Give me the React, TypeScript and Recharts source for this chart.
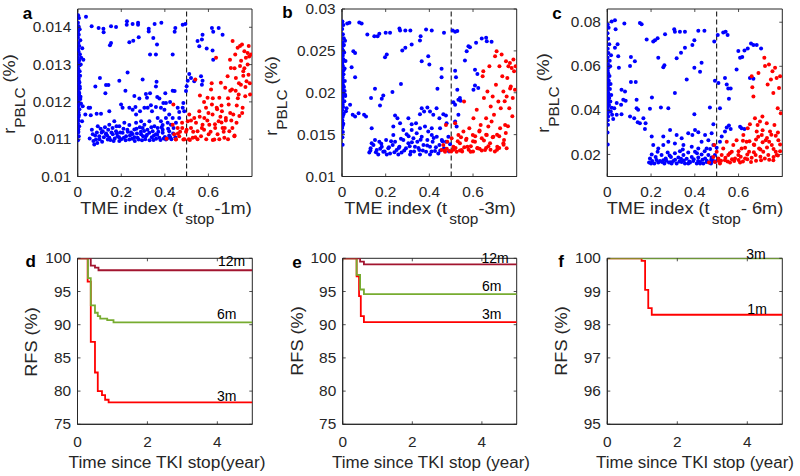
import React from 'react';
import {
  ScatterChart, Scatter, LineChart, Line, XAxis, YAxis,
  ReferenceLine, ReferenceArea, ReferenceDot,
} from 'recharts';

const FONT = '"Liberation Sans", Arial, Helvetica, sans-serif';
const AXIS = '#262626';
const BLUE = '#0000ff';
const RED = '#ff0000';
const GREEN = '#77ac30';
const DARKRED = '#a2142f';

type P = [number, number];

// ---------- tick values ----------
const scatterXTicks = [0, 0.2, 0.4, 0.6];
const aYTicks = [0.01, 0.011, 0.012, 0.013, 0.014];
const bYTicks = [0.01, 0.015, 0.02, 0.025, 0.03];
const cYTicks = [0.02, 0.04, 0.06, 0.08];
const kmXTicks = [0, 2, 4];
const deYTicks = [75, 80, 85, 90, 95, 100];
const fYTicks = [95, 96, 97, 98, 99, 100];

// ---------- panel a ----------
const aBlue: P[] = [
  [0.002,0.01432],[0.006,0.01425],[0.001,0.01412],[0.004,0.01403],[0.009,0.01395],[0.002,0.01388],[0.005,0.0138],[0.001,0.01372],
  [0.012,0.01365],[0.003,0.01358],[0.007,0.0135],[0.002,0.01342],[0.004,0.01335],[0.01,0.01328],[0.001,0.0132],[0.006,0.01312],
  [0.003,0.01305],[0.008,0.01298],[0.002,0.0129],[0.005,0.01283],[0.001,0.01276],[0.011,0.0127],[0.003,0.01262],[0.006,0.01255],
  [0.002,0.01248],[0.009,0.01242],[0.004,0.01235],[0.001,0.01228],[0.007,0.01222],[0.003,0.01215],[0.012,0.01208],[0.002,0.012],
  [0.005,0.01193],[0.001,0.01186],[0.008,0.0118],[0.003,0.01172],[0.006,0.01165],[0.002,0.01158],[0.004,0.0115],[0.001,0.01142],
  [0.007,0.01135],[0.003,0.01126],[0.002,0.01118],[0.005,0.01108],[0.001,0.01097],[0.004,0.01262],[0.008,0.01252],[0.01,0.01236],
  [0.006,0.01226],[0.013,0.01214],[0.002,0.01206],[0.015,0.01196],[0.009,0.01282],[0.014,0.013],[0.016,0.01318],[0.021,0.01344],[0.026,0.01313],
  [0.003,0.0128],[0.001,0.0125],[0.005,0.0122],[0.002,0.0119],[0.004,0.0116],[0.006,0.0131],[0.001,0.0134],[0.003,0.0112],[0.007,0.0124],[0.002,0.0127],
  [0.038,0.01428],[0.064,0.01403],[0.096,0.01398],[0.118,0.01396],[0.119,0.01387],[0.153,0.01403],[0.176,0.01401],[0.226,0.01416],
  [0.225,0.01407],[0.252,0.01409],[0.277,0.01412],[0.277,0.01407],[0.326,0.01396],[0.326,0.01389],[0.353,0.01409],[0.384,0.01412],
  [0.448,0.01398],[0.445,0.01388],[0.482,0.01407],[0.494,0.01409],
  [0.255,0.01364],[0.237,0.0136],[0.28,0.01373],[0.347,0.01371],[0.364,0.01354],[0.153,0.01358],[0.148,0.01352],[0.332,0.01327],
  [0.359,0.01327],[0.436,0.01327],[0.573,0.0138],[0.57,0.01367],[0.616,0.01398],[0.622,0.01388],[0.647,0.01398],[0.665,0.0138],
  [0.558,0.01349],[0.592,0.01343],[0.619,0.01338],[0.622,0.01313],[0.55,0.01363],
  [0.229,0.01279],[0.298,0.0126],[0.191,0.01257],[0.102,0.01264],[0.081,0.01241],[0.13,0.01245],[0.141,0.01245],[0.362,0.01254],
  [0.359,0.01241],[0.512,0.01275],[0.52,0.01264],[0.505,0.01257],[0.5,0.01242],[0.566,0.01269],[0.573,0.01257],[0.57,0.01246],
  [0.535,0.01255],[0.127,0.01223],[0.219,0.0123],[0.26,0.01216],[0.283,0.01209],[0.313,0.01221],[0.332,0.01223],[0.318,0.01211],
  [0.365,0.01213],[0.402,0.01223],[0.436,0.0123],[0.445,0.01229],[0.424,0.012],[0.405,0.01197],[0.375,0.01209],[0.485,0.01197],[0.497,0.01229],
  [0.023,0.01188],[0.05,0.01184],[0.057,0.01184],[0.035,0.01166],[0.06,0.01164],[0.087,0.01168],[0.107,0.01168],[0.02,0.01148],
  [0.145,0.01175],[0.199,0.01193],[0.206,0.01184],[0.237,0.01184],[0.252,0.01179],[0.265,0.01186],[0.268,0.01166],[0.286,0.01175],
  [0.306,0.01184],[0.321,0.01184],[0.336,0.01191],[0.341,0.01175],[0.359,0.01186],[0.382,0.01184],[0.393,0.01197],[0.398,0.01179],
  [0.459,0.01184],[0.466,0.01173],[0.482,0.01184],[0.489,0.01175],[0.367,0.01157],[0.382,0.01148],[0.405,0.01157],[0.42,0.01166],
  [0.436,0.01157],[0.466,0.01157],[0.451,0.01144],
  [0.069,0.01113],[0.076,0.01086],[0.084,0.01099],[0.099,0.01108],[0.115,0.01121],[0.13,0.01113],[0.138,0.01099],[0.145,0.01104],
  [0.161,0.01113],[0.176,0.01121],[0.183,0.01108],[0.191,0.01095],[0.206,0.01117],[0.222,0.01108],[0.237,0.01099],[0.252,0.01114],
  [0.26,0.01126],[0.275,0.01104],[0.291,0.01113],[0.298,0.0113],[0.313,0.01108],[0.329,0.01117],[0.344,0.01121],[0.359,0.01113],
  [0.375,0.01104],[0.39,0.01117],[0.405,0.01099],[0.42,0.01121],[0.092,0.01135],[0.145,0.01139],[0.168,0.01148],[0.191,0.01135],
  [0.214,0.01144],[0.237,0.01138],[0.268,0.01144],[0.291,0.01148],[0.306,0.01139],[0.329,0.01148],[0.352,0.01135],[0.367,0.0113],
  [0.39,0.01138],[0.413,0.01144],[0.428,0.01139],
  [0.1,0.011],[0.12,0.01105],[0.15,0.01098],[0.17,0.01102],[0.2,0.011],[0.22,0.01097],[0.25,0.01101],[0.28,0.01099],[0.31,0.011],
  [0.33,0.01097],[0.36,0.01101],[0.38,0.01098],[0.41,0.01102],[0.43,0.011],[0.08,0.0111],[0.11,0.01118],[0.14,0.01125],[0.18,0.01115],
  [0.23,0.0112],[0.27,0.01128],[0.32,0.01125],[0.35,0.0111],[0.39,0.01125],[0.42,0.0111],[0.44,0.0113],[0.09,0.0109],[0.13,0.01115],
  [0.16,0.0113],[0.19,0.01105],[0.21,0.01128],[0.24,0.0111],[0.26,0.01105],[0.29,0.0112],[0.3,0.01108],[0.34,0.01105],[0.37,0.0112],[0.4,0.01106],
  [0.055,0.01102],[0.065,0.01125],[0.072,0.01095],[0.088,0.01118],[0.105,0.01128],[0.112,0.01093],[0.125,0.01132],[0.135,0.0111],
  [0.155,0.01118],[0.165,0.01095],[0.178,0.01135],[0.195,0.01118],[0.212,0.01104],[0.228,0.01125],[0.245,0.01118],[0.262,0.01095],
  [0.272,0.01115],[0.285,0.01132],[0.295,0.01097],[0.305,0.01122],[0.318,0.01112],[0.338,0.01132],[0.348,0.01098],[0.365,0.01112],
  [0.385,0.01132],[0.395,0.01102],[0.415,0.01128],[0.425,0.01105],[0.438,0.01115],[0.448,0.01105],
];

const aRed: P[] = [
  [0.408,0.01101],[0.436,0.01139],[0.439,0.01193],[0.443,0.01113],[0.451,0.01099],[0.459,0.0113],[0.466,0.01108],[0.479,0.01144],
  [0.485,0.01099],[0.497,0.0112],[0.505,0.01148],[0.512,0.01166],[0.52,0.0113],[0.528,0.01104],[0.535,0.01157],[0.54,0.0126],
  [0.543,0.01144],[0.55,0.01121],[0.558,0.01175],[0.561,0.01217],[0.566,0.01108],[0.573,0.01139],[0.581,0.01157],[0.589,0.01184],
  [0.596,0.01211],[0.601,0.01113],[0.604,0.01139],[0.612,0.01233],[0.616,0.01193],[0.619,0.01166],[0.627,0.01099],[0.631,0.0113],
  [0.635,0.01318],[0.638,0.01184],[0.642,0.01113],[0.647,0.01148],[0.65,0.01211],[0.657,0.01251],[0.662,0.01175],[0.665,0.0113],
  [0.673,0.01104],[0.677,0.01238],[0.68,0.01157],[0.688,0.01269],[0.693,0.01193],[0.696,0.01121],[0.699,0.01313],[0.703,0.01291],
  [0.708,0.01233],[0.711,0.01363],[0.714,0.01166],[0.719,0.01108],[0.723,0.01327],[0.726,0.01264],[0.729,0.01144],[0.734,0.01345],
  [0.739,0.0122],[0.742,0.01162],[0.745,0.01296],[0.749,0.01246],[0.754,0.01354],[0.757,0.01184],[0.76,0.01282],[0.765,0.01336],
  [0.769,0.01215],[0.772,0.01318],[0.775,0.01255],[0.78,0.01331],[0.784,0.01273],[0.787,0.01322],[0.791,0.0122],[0.795,0.01327],
  [0.45,0.011],[0.47,0.0112],[0.49,0.011],[0.51,0.011],[0.53,0.0112],[0.55,0.011],[0.57,0.0113],[0.59,0.011],[0.61,0.0112],
  [0.63,0.0114],[0.65,0.011],[0.67,0.0112],[0.69,0.011],[0.71,0.0113],[0.48,0.0113],[0.52,0.0115],[0.56,0.0116],[0.6,0.0117],
  [0.64,0.0118],[0.68,0.0115],[0.7,0.0117],[0.73,0.0119],[0.58,0.012],[0.62,0.0121],[0.66,0.0119],[0.7,0.0123],[0.74,0.0125],
  [0.76,0.0127],[0.72,0.0129],[0.75,0.0131],[0.78,0.013],[0.77,0.0124],[0.79,0.0125],
  [0.46,0.01115],[0.5,0.01125],[0.54,0.01105],[0.58,0.01125],[0.62,0.01098],[0.66,0.01145],[0.72,0.0111],[0.515,0.01098],
  [0.595,0.0115],[0.675,0.0113],[0.705,0.0115],[0.735,0.0121],[0.755,0.0117],[0.765,0.0129],[0.785,0.0135],[0.745,0.0135],
  [0.725,0.0123],[0.69,0.0121],[0.655,0.0116],[0.615,0.0125],
];

// ---------- panel b ----------
const bBlue: P[] = [
  [0.002,0.0285],[0.006,0.0281],[0.001,0.0276],[0.004,0.027],[0.008,0.0265],[0.002,0.026],[0.005,0.0256],[0.001,0.0252],[0.01,0.0248],
  [0.003,0.0244],[0.006,0.024],[0.002,0.0236],[0.004,0.0232],[0.012,0.0229],[0.001,0.0225],[0.007,0.0222],[0.003,0.0218],[0.005,0.0214],
  [0.002,0.0211],[0.009,0.0207],[0.001,0.0204],[0.004,0.02],[0.006,0.0197],[0.002,0.0193],[0.011,0.019],[0.003,0.0186],[0.005,0.0183],
  [0.001,0.0179],[0.008,0.0175],[0.003,0.0171],[0.002,0.0167],[0.006,0.0163],[0.001,0.0158],[0.004,0.0153],[0.002,0.0147],[0.003,0.0138],
  [0.014,0.0262],[0.016,0.0238],[0.013,0.0214],[0.015,0.0196],[0.018,0.0178],[0.012,0.0202],[0.009,0.0257],[0.007,0.0227],
  [0.003,0.0245],[0.001,0.0219],[0.005,0.0209],[0.002,0.0188],[0.004,0.0173],[0.006,0.025],[0.001,0.0233],[0.003,0.0161],
  [0.024,0.02828],[0.034,0.02836],[0.079,0.0284],[0.09,0.02828],[0.116,0.02696],[0.148,0.02676],[0.163,0.02676],[0.171,0.02704],
  [0.2,0.02716],[0.22,0.02716],[0.263,0.02768],[0.266,0.02744],[0.29,0.02744],[0.313,0.02744],[0.36,0.02676],[0.357,0.02624],
  [0.385,0.02756],[0.411,0.02744],[0.467,0.02716],[0.507,0.02744],[0.518,0.02728],[0.528,0.02736],
  [0.319,0.02576],[0.29,0.02536],[0.276,0.02504],[0.205,0.02456],[0.197,0.02424],[0.365,0.02376],[0.395,0.02436],[0.4,0.02336],
  [0.052,0.02496],[0.06,0.02476],[0.044,0.02304],[0.06,0.02184],[0.456,0.02288],[0.456,0.02184],[0.518,0.02264],[0.522,0.02184],
  [0.27,0.02104],[0.231,0.02008],[0.151,0.02048],[0.133,0.01936],[0.189,0.01968],[0.182,0.01928],[0.174,0.01848],[0.437,0.02048],
  [0.571,0.02496],[0.579,0.02556],[0.586,0.02544],[0.614,0.02596],[0.64,0.02648],[0.66,0.02656],[0.663,0.02616],[0.685,0.02608],
  [0.563,0.02384],[0.609,0.02276],[0.62,0.02224],[0.602,0.02036],[0.609,0.02088],[0.624,0.02056],[0.528,0.02036],[0.533,0.01916],
  [0.54,0.01936],[0.518,0.01856],[0.51,0.01888],[0.543,0.01904],[0.533,0.01736],[0.518,0.01656],[0.525,0.01596],
  [0.021,0.01816],[0.049,0.01736],[0.06,0.01716],[0.076,0.01756],[0.101,0.01736],[0.11,0.01716],[0.037,0.01856],[0.014,0.01976],
  [0.243,0.01728],[0.254,0.01696],[0.266,0.01636],[0.304,0.01696],[0.319,0.01624],[0.339,0.01636],[0.357,0.01744],[0.365,0.01816],
  [0.376,0.01776],[0.391,0.01824],[0.403,0.01776],[0.418,0.01736],[0.433,0.01816],[0.446,0.01696],[0.464,0.01744],[0.476,0.01728],
  [0.479,0.01636],[0.357,0.01576],[0.38,0.01596],[0.411,0.01576],[0.449,0.01576],[0.281,0.01556],[0.235,0.01596],[0.342,0.01516],
  [0.395,0.01536],[0.136,0.01576],
  [0.125,0.01288],[0.131,0.01336],[0.144,0.01376],[0.159,0.01316],[0.171,0.01416],[0.182,0.01356],[0.189,0.01296],[0.202,0.01436],
  [0.212,0.01336],[0.22,0.01276],[0.232,0.01376],[0.243,0.01416],[0.25,0.01316],[0.263,0.01356],[0.273,0.01288],[0.281,0.01436],
  [0.293,0.01336],[0.304,0.01396],[0.315,0.01296],[0.327,0.01456],[0.334,0.01356],[0.345,0.01416],[0.354,0.01316],[0.365,0.01476],
  [0.373,0.01376],[0.385,0.01296],[0.391,0.01436],[0.403,0.01356],[0.415,0.01416],[0.426,0.01304],[0.434,0.01476],[0.446,0.01376],
  [0.457,0.01436],[0.467,0.01336],[0.476,0.01416],[0.487,0.01476],[0.495,0.01384],[0.136,0.01396],[0.151,0.01436],[0.166,0.01264],
  [0.205,0.01264],[0.258,0.01264],[0.312,0.01264],[0.357,0.01264],[0.403,0.01264],[0.441,0.01276],[0.235,0.01496],[0.296,0.01504],
  [0.411,0.01496],[0.319,0.01556],
  [0.13,0.0131],[0.155,0.0129],[0.175,0.0133],[0.195,0.013],[0.215,0.0135],[0.24,0.0129],[0.26,0.0134],[0.285,0.0131],[0.31,0.0136],
  [0.33,0.013],[0.35,0.0134],[0.37,0.0131],[0.39,0.0137],[0.41,0.013],[0.43,0.0135],[0.45,0.0131],[0.47,0.0133],[0.49,0.013],
  [0.225,0.0142],[0.27,0.0145],[0.32,0.0141],[0.36,0.0144],[0.42,0.0146],[0.46,0.0142],[0.18,0.0139],[0.305,0.0148],
];

const bRed: P[] = [
  [0.456,0.01316],[0.464,0.01376],[0.472,0.01296],[0.476,0.01616],[0.482,0.01416],[0.492,0.01304],[0.502,0.01456],[0.51,0.01356],
  [0.518,0.01636],[0.525,0.01296],[0.533,0.01496],[0.54,0.01396],[0.548,0.01316],[0.556,0.01536],[0.559,0.01896],[0.568,0.01436],
  [0.574,0.01356],[0.583,0.01576],[0.589,0.01296],[0.599,0.01496],[0.602,0.01696],[0.609,0.01416],[0.617,0.01796],[0.62,0.01336],
  [0.629,0.01536],[0.635,0.01616],[0.64,0.01456],[0.644,0.02196],[0.647,0.02256],[0.65,0.01936],[0.655,0.01316],[0.66,0.01696],
  [0.663,0.01496],[0.666,0.02016],[0.67,0.01596],[0.675,0.02316],[0.678,0.01396],[0.681,0.01836],[0.685,0.01656],[0.69,0.01956],
  [0.693,0.01476],[0.696,0.01736],[0.701,0.02436],[0.705,0.02096],[0.708,0.02496],[0.711,0.01356],[0.716,0.01896],[0.721,0.02316],
  [0.724,0.01576],[0.727,0.01816],[0.731,0.02456],[0.734,0.02196],[0.739,0.02016],[0.742,0.01436],[0.747,0.01616],[0.751,0.02376],
  [0.754,0.01956],[0.757,0.02176],[0.762,0.02316],[0.766,0.01816],[0.769,0.02356],[0.773,0.02076],[0.777,0.02296],[0.782,0.01936],
  [0.785,0.02396],[0.788,0.02256],[0.792,0.02036],[0.795,0.02316],[0.754,0.01336],[0.739,0.01396],
  [0.48,0.0133],[0.5,0.013],[0.52,0.0134],[0.54,0.0131],[0.56,0.0135],[0.58,0.0132],[0.6,0.013],[0.62,0.0134],[0.64,0.0131],
  [0.66,0.0134],[0.68,0.0132],[0.7,0.013],[0.72,0.0134],[0.74,0.0138],[0.53,0.0142],[0.57,0.0145],[0.61,0.0148],[0.65,0.0143],
  [0.69,0.0147],[0.71,0.015],[0.75,0.0152],[0.63,0.0155],
  [0.47,0.0131],[0.51,0.0132],[0.55,0.013],[0.59,0.0136],[0.63,0.0133],[0.67,0.0136],[0.71,0.0132],[0.545,0.0147],[0.6,0.0142],
  [0.66,0.015],[0.72,0.0148],[0.76,0.016],[0.78,0.0172],[0.745,0.019],[0.77,0.0205],
];

// ---------- panel c ----------
const cBlue: P[] = [
  [0.002,0.079],[0.006,0.0775],[0.001,0.075],[0.004,0.0725],[0.009,0.07],[0.002,0.068],[0.005,0.066],[0.001,0.064],[0.011,0.0625],
  [0.003,0.061],[0.006,0.0595],[0.002,0.058],[0.004,0.0568],[0.01,0.0556],[0.001,0.0545],[0.007,0.0535],[0.003,0.0525],[0.005,0.0515],
  [0.002,0.0505],[0.012,0.0497],[0.001,0.0488],[0.004,0.048],[0.006,0.0472],[0.002,0.0464],[0.009,0.0456],[0.003,0.0448],[0.005,0.044],
  [0.001,0.0432],[0.008,0.0424],[0.003,0.0416],[0.002,0.0405],[0.006,0.0395],[0.001,0.0385],[0.004,0.0372],[0.002,0.0355],[0.003,0.0335],
  [0.001,0.03],[0.002,0.0245],[0.015,0.052],[0.018,0.047],[0.014,0.044],[0.02,0.0412],[0.016,0.0395],[0.022,0.038],[0.013,0.06],[0.017,0.065],
  [0.02,0.0803],[0.035,0.0809],[0.038,0.0768],[0.078,0.0794],[0.149,0.0797],[0.157,0.0791],[0.18,0.0722],[0.21,0.0712],[0.218,0.0718],
  [0.23,0.0727],[0.264,0.0745],[0.306,0.0768],[0.309,0.0757],[0.332,0.0757],[0.355,0.0757],[0.416,0.0761],[0.444,0.0761],[0.489,0.0712],
  [0.505,0.0742],[0.53,0.0753],[0.541,0.0757],[0.55,0.0742],[0.398,0.0718],[0.389,0.0697],[0.355,0.0684],[0.337,0.0661],[0.317,0.0636],
  [0.233,0.0639],[0.261,0.0605],[0.256,0.0596],[0.398,0.0593],[0.431,0.0616],[0.424,0.0575],[0.363,0.054],[0.492,0.0535],[0.309,0.0479],
  [0.204,0.0459],[0.245,0.0413],[0.279,0.041],[0.398,0.0383],[0.469,0.0413],[0.485,0.0337],[0.195,0.0407],[0.108,0.0642],[0.126,0.0623],
  [0.104,0.0601],[0.05,0.0646],[0.053,0.0593],[0.035,0.0684],[0.047,0.07],[0.108,0.0529],[0.13,0.0529],[0.065,0.0494],[0.081,0.0486],
  [0.084,0.0444],[0.073,0.0448],[0.063,0.0425],[0.043,0.0433],[0.032,0.041],[0.043,0.038],[0.065,0.0383],[0.027,0.0361],[0.104,0.0372],
  [0.123,0.0364],[0.134,0.041],[0.141,0.0403],[0.139,0.0346],[0.149,0.0342],[0.165,0.0364],[0.175,0.0342],[0.172,0.0316],[0.134,0.0448],
  [0.599,0.0669],[0.607,0.0639],[0.627,0.0672],[0.642,0.0681],[0.657,0.0703],[0.668,0.0697],[0.683,0.0697],[0.703,0.0681],[0.591,0.0585],
  [0.617,0.0642],[0.538,0.0547],[0.546,0.0517],[0.553,0.0499],[0.564,0.0499],[0.556,0.0453],[0.652,0.0547],[0.668,0.0544],[0.508,0.0524],
  [0.515,0.041],[0.546,0.0322],[0.556,0.0331],[0.564,0.0316],[0.538,0.0304],[0.607,0.0326],[0.614,0.0319],[0.627,0.0316],[0.523,0.0281],
  [0.515,0.0258],
  [0.401,0.0311],[0.37,0.0296],[0.389,0.0288],[0.416,0.0301],[0.447,0.0288],[0.477,0.0296],[0.462,0.0265],[0.431,0.0258],[0.34,0.0273],
  [0.317,0.0288],[0.309,0.025],[0.279,0.0258],[0.256,0.0281],[0.256,0.0243],[0.203,0.0281],[0.21,0.0243],[0.233,0.0227],[0.348,0.0243],
  [0.386,0.0235],[0.416,0.0227],[0.454,0.0227],[0.485,0.0243],[0.287,0.0311],
  [0.191,0.0163],[0.195,0.0182],[0.203,0.02],[0.215,0.0159],[0.221,0.0189],[0.23,0.0212],[0.241,0.017],[0.248,0.0197],[0.261,0.0159],
  [0.267,0.0182],[0.276,0.0209],[0.282,0.0163],[0.291,0.0189],[0.302,0.017],[0.309,0.0205],[0.317,0.0159],[0.325,0.0186],[0.332,0.0215],
  [0.34,0.0166],[0.348,0.0197],[0.355,0.0159],[0.363,0.018],[0.37,0.0209],[0.378,0.0163],[0.386,0.0189],[0.393,0.017],[0.401,0.0212],
  [0.409,0.0159],[0.416,0.0186],[0.424,0.0166],[0.431,0.02],[0.439,0.0159],[0.447,0.0182],[0.454,0.0166],[0.462,0.0197],[0.469,0.0163],
  [0.477,0.0186],[0.485,0.017],[0.492,0.0197],[0.2,0.0159],[0.233,0.0163],[0.294,0.0159],[0.37,0.0159],[0.424,0.0159],[0.474,0.0159],
  [0.256,0.0174],[0.337,0.018],
  [0.205,0.017],[0.225,0.0175],[0.25,0.0166],[0.27,0.0172],[0.29,0.0165],[0.31,0.0176],[0.33,0.0168],[0.35,0.0173],[0.375,0.0168],
  [0.395,0.0178],[0.415,0.017],[0.435,0.0176],[0.455,0.0172],[0.475,0.0176],[0.495,0.0168],[0.285,0.0195],[0.345,0.0222],[0.41,0.0205],
  [0.445,0.0215],[0.47,0.0225],[0.5,0.023],
];

const cRed: P[] = [
  [0.465,0.0163],[0.485,0.0189],[0.489,0.0243],[0.492,0.0166],[0.5,0.0212],[0.508,0.0182],[0.515,0.0159],[0.523,0.0197],[0.53,0.0227],
  [0.538,0.0174],[0.546,0.0258],[0.553,0.0197],[0.561,0.0163],[0.569,0.0212],[0.576,0.0243],[0.584,0.0182],[0.591,0.0265],[0.599,0.0197],
  [0.607,0.0163],[0.614,0.0227],[0.622,0.0288],[0.63,0.0182],[0.637,0.0258],[0.642,0.0319],[0.648,0.0212],[0.652,0.0337],[0.657,0.0166],
  [0.66,0.0555],[0.663,0.0505],[0.668,0.0463],[0.672,0.0243],[0.675,0.0364],[0.678,0.0197],[0.683,0.0304],[0.687,0.0334],[0.691,0.057],
  [0.694,0.0227],[0.698,0.0349],[0.703,0.0174],[0.706,0.0288],[0.709,0.0372],[0.713,0.0212],[0.718,0.0639],[0.721,0.0601],[0.724,0.0265],
  [0.729,0.0342],[0.733,0.0517],[0.736,0.0197],[0.739,0.0608],[0.744,0.0304],[0.748,0.054],[0.752,0.0243],[0.755,0.0578],[0.759,0.0479],
  [0.764,0.0334],[0.767,0.0593],[0.77,0.0212],[0.774,0.0547],[0.779,0.041],[0.782,0.0265],[0.785,0.0502],[0.79,0.0555],[0.793,0.0387],
  [0.759,0.0174],[0.774,0.0197],
  [0.52,0.0172],[0.55,0.0168],[0.58,0.017],[0.6,0.0175],[0.62,0.0168],[0.64,0.0178],[0.66,0.0185],[0.68,0.0172],[0.7,0.019],
  [0.72,0.0182],[0.74,0.0176],[0.76,0.0188],[0.78,0.0195],[0.56,0.0205],[0.6,0.0215],[0.63,0.023],[0.67,0.0245],[0.71,0.0255],
  [0.73,0.0275],[0.77,0.0285],[0.79,0.0245],[0.65,0.026],[0.69,0.028],[0.75,0.029],
  [0.51,0.017],[0.54,0.0185],[0.57,0.0178],[0.61,0.019],[0.64,0.02],[0.67,0.021],[0.7,0.0222],[0.73,0.0232],[0.76,0.0225],
  [0.79,0.0215],[0.62,0.0262],[0.68,0.0268],[0.74,0.0258],[0.78,0.03],[0.71,0.031],
];

// ---------- RFS curves (time in years, RFS in %) ----------
const d3m: P[] = [[0,100],[0.29,96.5],[0.38,87.4],[0.5,82.8],[0.58,80.0],[0.7,79.4],[0.79,78.7],[0.89,78.3],[5,78.3]];
const d6m: P[] = [[0,100],[0.3,97.0],[0.38,92.9],[0.5,91.8],[0.58,91.3],[0.65,90.9],[0.85,90.7],[1.03,90.35],[5,90.35]];
const d12m: P[] = [[0,100],[0.38,98.9],[0.5,98.6],[0.6,98.2],[5,98.2]];
const e3m: P[] = [[0,100],[0.4,97.3],[0.47,94.3],[0.52,91.3],[0.61,90.4],[5,90.4]];
const e6m: P[] = [[0,100],[0.4,97.5],[0.5,95.3],[0.61,94.6],[5,94.6]];
const e12m: P[] = [[0,100],[0.5,99.5],[0.61,99.1],[5,99.1]];
const f1m: P[] = [[0,100],[0.98,99.92],[1.08,99.05],[1.17,98.5],[1.27,98.3],[5,98.3]];
const f3m: P[] = [[0,100],[5,100]];

const dLabels = [{ text: '12m', x: 4.41, y: 99.52 }, { text: '6m', x: 4.27, y: 91.6 }, { text: '3m', x: 4.27, y: 79.26 }];
const eLabels = [{ text: '12m', x: 4.38, y: 100.05 }, { text: '6m', x: 4.28, y: 95.83 }, { text: '3m', x: 4.28, y: 91.54 }];
const fLabels = [{ text: '3m', x: 4.25, y: 100.13 }, { text: '1m', x: 4.28, y: 98.46 }];

const toXY = (p: P) => ({ x: p[0], y: p[1] });

// ---------- tick renderers (inward ticks on all four sides, MATLAB-like) ----------
function XTick(props: any) {
  const { x, y, payload, h, off } = props;
  return (
    <g>
      <line x1={x} x2={x} y1={y} y2={y - 3} stroke={AXIS} strokeWidth={0.8} />
      <line x1={x} x2={x} y1={y - h} y2={y - h + 3} stroke={AXIS} strokeWidth={0.8} />
      <text transform={`translate(${x},${y + off}) scale(1.1,1)`} textAnchor="middle" dy="0.36em"
        fill={AXIS} fontSize={14} fontFamily={FONT}>{String(payload.value)}</text>
    </g>
  );
}

function YTick(props: any) {
  const { x, y, payload, w } = props;
  return (
    <g>
      <line x1={x} x2={x + 3} y1={y} y2={y} stroke={AXIS} strokeWidth={0.8} />
      <line x1={x + w} x2={x + w - 3} y1={y} y2={y} stroke={AXIS} strokeWidth={0.8} />
      <text transform={`translate(${x - 6.5},${y}) scale(1.1,1)`} textAnchor="end" dy="0.36em"
        fill={AXIS} fontSize={14} fontFamily={FONT}>{String(payload.value)}</text>
    </g>
  );
}

const blueDot = (p: any) => <circle cx={p.cx} cy={p.cy} r={2} fill={BLUE} />;
const redDot = (p: any) => <circle cx={p.cx} cy={p.cy} r={2} fill={RED} />;

function ScatterPanel(props: {
  left: number; width: number; yw: number; rm: number;
  blue: P[]; red: P[]; yDomain: [number, number]; yTicks: number[];
}) {
  const { left, width, yw, rm, blue, red, yDomain, yTicks } = props;
  const H = 200, top = 9, xh = 23.5;
  const plotW = width - yw - rm;
  const plotH = H - top - xh;
  return (
    <div style={{ position: 'absolute', left, top: 0 }}>
      <ScatterChart width={width} height={H} margin={{ top, right: rm, bottom: 0, left: 0 }}>
        <XAxis type="number" dataKey="x" domain={[0, 0.8]} ticks={scatterXTicks} allowDataOverflow interval={0}
          height={xh} tickSize={0} tickMargin={0} tickLine={false} axisLine={{ stroke: AXIS }}
          tick={<XTick h={plotH} off={15.5} />} />
        <YAxis type="number" dataKey="y" domain={yDomain} ticks={yTicks} allowDataOverflow interval={0}
          width={yw} tickSize={0} tickMargin={0} tickLine={false} axisLine={{ stroke: AXIS }}
          tick={<YTick w={plotW} />} />
        <ReferenceArea x1={0} x2={0.8} y1={yDomain[0]} y2={yDomain[1]} fill="none" fillOpacity={0}
          stroke={AXIS} strokeWidth={1} ifOverflow="visible" />
        <Scatter data={blue.map(toXY)} shape={blueDot} isAnimationActive={false} />
        <Scatter data={red.map(toXY)} shape={redDot} isAnimationActive={false} />
        <ReferenceLine x={0.5} stroke="#000" strokeDasharray="5 3" strokeWidth={1} />
      </ScatterChart>
    </div>
  );
}

function KMPanel(props: {
  left: number; width: number; yw: number; rm: number;
  yDomain: [number, number]; yTicks: number[];
  series: { data: P[]; color: string }[];
  labels: { text: string; x: number; y: number }[];
}) {
  const { left, width, yw, rm, yDomain, yTicks, series, labels } = props;
  const H = 210, top = 18.3, xh = 25.7;
  const plotW = width - yw - rm;
  const plotH = H - top - xh;
  return (
    <div style={{ position: 'absolute', left, top: 240 }}>
      <LineChart width={width} height={H} margin={{ top, right: rm, bottom: 0, left: 0 }}>
        <XAxis type="number" dataKey="x" domain={[0, 5]} ticks={kmXTicks} allowDataOverflow interval={0}
          height={xh} tickSize={0} tickMargin={0} tickLine={false} axisLine={{ stroke: AXIS }}
          tick={<XTick h={plotH} off={17.3} />} />
        <YAxis type="number" dataKey="y" domain={yDomain} ticks={yTicks} allowDataOverflow interval={0}
          width={yw} tickSize={0} tickMargin={0} tickLine={false} axisLine={{ stroke: AXIS }}
          tick={<YTick w={plotW} />} />
        <ReferenceArea x1={0} x2={5} y1={yDomain[0]} y2={yDomain[1]} fill="none" fillOpacity={0}
          stroke={AXIS} strokeWidth={1} ifOverflow="visible" />
        {series.map((s, i) => (
          <Line key={i} data={s.data.map(toXY)} dataKey="y" type="stepAfter" stroke={s.color}
            strokeWidth={1.8} dot={false} activeDot={false} isAnimationActive={false} />
        ))}
        {labels.map((l, i) => (
          <ReferenceDot key={'l' + i} x={l.x} y={l.y} r={0} fill="none" stroke="none" ifOverflow="visible"
            label={{ value: l.text, position: 'center', fill: '#000', fontSize: 14, fontFamily: FONT }} />
        ))}
      </LineChart>
    </div>
  );
}

const baseText: React.CSSProperties = {
  position: 'absolute', whiteSpace: 'nowrap', lineHeight: 1, color: AXIS, fontFamily: FONT,
};

function XTitle({ cx, cy, pre, sub, post, fs = 16.5, sx = 1.1 }: { cx: number; cy: number; pre: string; sub?: string; post?: string; fs?: number; sx?: number }) {
  return (
    <div style={{ ...baseText, left: cx, top: cy, fontSize: fs, transform: `translate(-50%,-50%) scaleX(${sx})` }}>
      {pre}
      {sub ? <span style={{ fontSize: 14, position: 'relative', top: 10, marginLeft: 2 }}>{sub}</span> : null}
      {post}
    </div>
  );
}

function YTitle({ cx, cy, pre, sub, post }: { cx: number; cy: number; pre: string; sub?: string; post?: string }) {
  return (
    <div style={{ ...baseText, left: cx, top: cy, fontSize: 16.5, transform: 'translate(-50%,-50%) rotate(-90deg) scaleX(1.1)' }}>
      {pre}
      {sub ? <span style={{ fontSize: 14, position: 'relative', top: 10 }}>{sub}</span> : null}
      {post}
    </div>
  );
}

function Letter({ cx, cy, t }: { cx: number; cy: number; t: string }) {
  return (
    <div style={{ ...baseText, left: cx, top: cy, fontSize: 17, fontWeight: 700, color: '#000', transform: 'translate(-50%,-50%)' }}>{t}</div>
  );
}

export default function App() {
  return (
    <div style={{ position: 'absolute', left: 0, top: 0, width: 800, height: 476, background: '#fff', overflow: 'hidden', fontFamily: FONT }}>
      <ScatterPanel left={0} width={262} yw={77.7} rm={10} blue={aBlue} red={aRed} yDomain={[0.01, 0.01449]} yTicks={aYTicks} />
      <ScatterPanel left={262} width={265} yw={80} rm={10.3} blue={bBlue} red={bRed} yDomain={[0.01, 0.03]} yTicks={bYTicks} />
      <ScatterPanel left={527} width={265} yw={80.3} rm={9.7} blue={cBlue} red={cRed} yDomain={[0.01, 0.086]} yTicks={cYTicks} />

      <KMPanel left={0} width={262} yw={77.5} rm={9.7} yDomain={[75, 100]} yTicks={deYTicks}
        series={[{ data: d3m, color: RED }, { data: d6m, color: GREEN }, { data: d12m, color: DARKRED }]} labels={dLabels} />
      <KMPanel left={262} width={265} yw={80.7} rm={10.3} yDomain={[75, 100]} yTicks={deYTicks}
        series={[{ data: e3m, color: RED }, { data: e6m, color: GREEN }, { data: e12m, color: DARKRED }]} labels={eLabels} />
      <KMPanel left={527} width={265} yw={80.3} rm={9.7} yDomain={[95, 100]} yTicks={fYTicks}
        series={[{ data: f1m, color: RED }, { data: f3m, color: GREEN }]} labels={fLabels} />

      <XTitle cx={166} cy={207.6} pre="TME index (t" sub="stop" post="-1m)" />
      <XTitle cx={430} cy={207.6} pre="TME index (t" sub="stop" post="-3m)" />
      <XTitle cx={695} cy={207.6} pre="TME index (t" sub="stop" post="- 6m)" />
      <XTitle cx={167} cy={462.6} fs={16} sx={1.08} pre="Time since TKI stop(year)" />
      <XTitle cx={431} cy={462.6} fs={16} sx={1.06} pre="Time since TKI stop (year)" />
      <XTitle cx={695} cy={462.6} fs={16} sx={1.06} pre="Time since TKI stop (year)" />

      <YTitle cx={9.3} cy={94} pre="r" sub="PBLC" post=" (%)" />
      <YTitle cx={271.3} cy={96} pre="r" sub="PBLC" post=" (%)" />
      <YTitle cx={543.3} cy={93} pre="r" sub="PBLC" post=" (%)" />
      <YTitle cx={31.3} cy={341.7} pre="RFS (%)" />
      <YTitle cx={297.3} cy={341} pre="RFS (%)" />
      <YTitle cx={561.3} cy={341} pre="RFS (%)" />

      <Letter cx={27.5} cy={13.3} t="a" />
      <Letter cx={287.5} cy={12} t="b" />
      <Letter cx={557} cy={13} t="c" />
      <Letter cx={30.8} cy={261} t="d" />
      <Letter cx={297} cy={262} t="e" />
      <Letter cx={561} cy={261} t="f" />
    </div>
  );
}
